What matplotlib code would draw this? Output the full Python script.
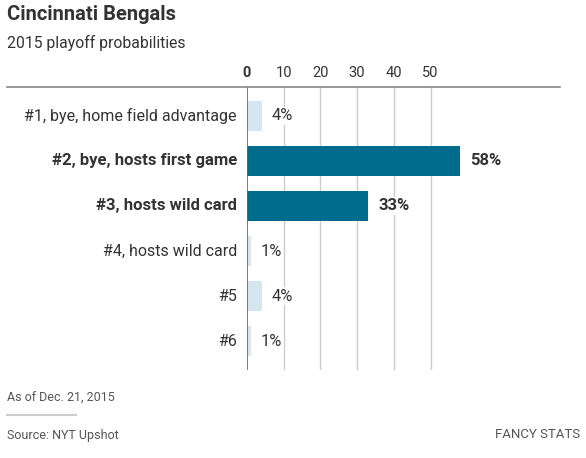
import matplotlib.pyplot as plt
from matplotlib.lines import Line2D

# --- data ---
categories = ["#1, bye, home field advantage", "#2, bye, hosts first game",
              "#3, hosts wild card", "#4, hosts wild card", "#5", "#6"]
probs = [4, 58, 33, 1, 4, 1]
highlight = [False, True, True, False, False, False]
ticks = [0, 10, 20, 30, 40, 50]

DARK = "#006d8f"
LIGHT = "#d5e6f1"
TEXT = "#333333"

plt.rcParams['font.family'] = ['Roboto', 'DejaVu Sans']

W, H = 586, 458
fig = plt.figure(figsize=(W / 100, H / 100), dpi=100)

# axes placed in pixel terms
left, right, top, bottom = 247, 559, 87, 370
ax = fig.add_axes([left / W, 1 - bottom / H, (right - left) / W, (bottom - top) / H])
ax.set_xlim(0, 85)
ax.set_ylim(5.644, -0.644)

for t in ticks[1:]:
    ax.axvline(t, color="#cccccc", lw=1, zorder=0)
ax.axvline(0, color="#666666", lw=1.2, zorder=3)

colors = [DARK if h else LIGHT for h in highlight]
ax.barh(range(len(categories)), probs, height=0.667, color=colors, zorder=2)

for i, (cat, p, h) in enumerate(zip(categories, probs, highlight)):
    w = "bold" if h else "normal"
    fs = 12 if h else 11.5
    ax.annotate(f"{p}%", (p, i), xytext=(10, 0), textcoords="offset pixels",
                va="center", ha="left", fontsize=12 if h else 11.8, color=TEXT,
                fontweight=w,
                bbox=dict(facecolor="white", edgecolor="none", pad=1), zorder=4)
    ax.annotate(cat, (0, i), xytext=(-10, 0), textcoords="offset pixels",
                va="center", ha="right", fontsize=fs, color=TEXT, fontweight=w,
                annotation_clip=False)

ax.set_yticks([])
ax.set_xticks(ticks)
ax.xaxis.tick_top()
ax.set_xticklabels([str(t) for t in ticks], fontsize=10.5, color=TEXT)
ax.get_xticklabels()[0].set_fontweight("bold")
ax.tick_params(axis="x", length=0, pad=5)
for s in ax.spines.values():
    s.set_visible(False)

# top rule
fig.add_artist(Line2D([7 / W, 560 / W], [1 - 87 / H, 1 - 87 / H],
                      color="#888888", lw=1.2))

fig.text(7 / W, 1 - 15 / H, "Cincinnati Bengals", fontsize=14.5,
         fontweight="bold", color=TEXT, va="center")
fig.text(7 / W, 1 - 43 / H, "2015 playoff probabilities", fontsize=11.3,
         color=TEXT, va="center")

fig.text(7 / W, 1 - 398 / H, "As of Dec. 21, 2015", fontsize=9,
         color="#555555", va="center")
fig.add_artist(Line2D([7 / W, 76 / W], [1 - 415 / H, 1 - 415 / H],
                      color="#cccccc", lw=1.5))
fig.text(7 / W, 1 - 435 / H, "Source: NYT Upshot", fontsize=9,
         color="#555555", va="center")
fig.text(580 / W, 1 - 435 / H, "FANCY STATS", fontsize=9.5,
         color="#555555", va="center", ha="right")

fig.savefig("out.png", dpi=100)
